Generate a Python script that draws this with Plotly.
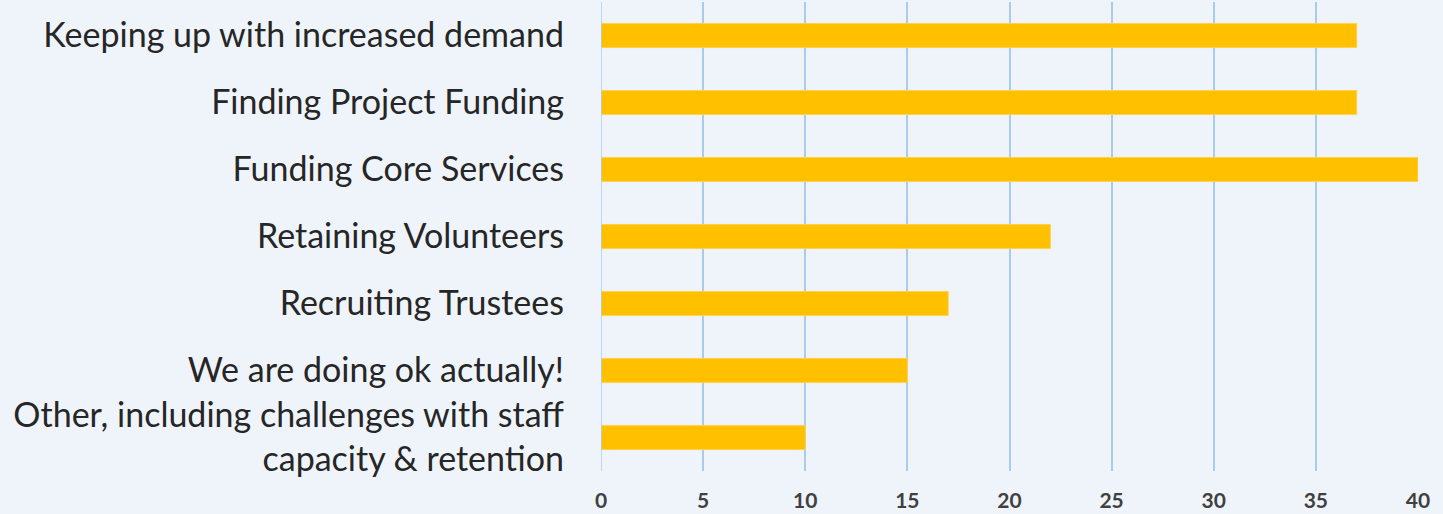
import plotly.graph_objects as go

categories = [
    "Keeping up with increased demand",
    "Finding Project Funding",
    "Funding Core Services",
    "Retaining Volunteers",
    "Recruiting Trustees",
    "We are doing ok actually!",
    "Other, including challenges with staff<br>capacity & retention",
]
values = [37, 37, 40, 22, 17, 15, 10]
tick_vals = [0, 5, 10, 15, 20, 25, 30, 35, 40]

fig = go.Figure(
    go.Bar(
        x=values,
        y=categories,
        orientation="h",
        marker=dict(color="#FFC000", line=dict(color="#FFD24D", width=1)),
        width=0.36,
        hoverinfo="skip",
    )
)

bg = "#EFF4FB"
fig.update_layout(
    width=1443,
    height=514,
    paper_bgcolor=bg,
    plot_bgcolor=bg,
    margin=dict(l=601, r=25, t=2, b=43),
    showlegend=False,
)
fig.update_xaxes(
    range=[0, 40],
    tickvals=tick_vals,
    showgrid=True,
    gridcolor="#A9CCEC",
    gridwidth=1.5,
    zeroline=False,
    showline=False,
    automargin=False,
    tickfont=dict(family="Lato", size=21, color="#404040", weight="bold"),
    ticklabelstandoff=15,
)
fig.update_yaxes(
    categoryorder="array",
    categoryarray=categories[::-1],
    showgrid=False,
    zeroline=False,
    showline=False,
    automargin=False,
    tickfont=dict(family="Lato", size=34, color="#262626"),
    ticklabelstandoff=36,
)
fig.add_shape(type="line", xref="x", yref="paper", x0=0, x1=0, y0=0, y1=1,
              line=dict(color="#A9CCEC", width=1.5))

fig.write_html(
    "out.html",
    config={"displayModeBar": False},
    post_script="document.body.style.margin='0';document.body.style.overflow='hidden';",
)
